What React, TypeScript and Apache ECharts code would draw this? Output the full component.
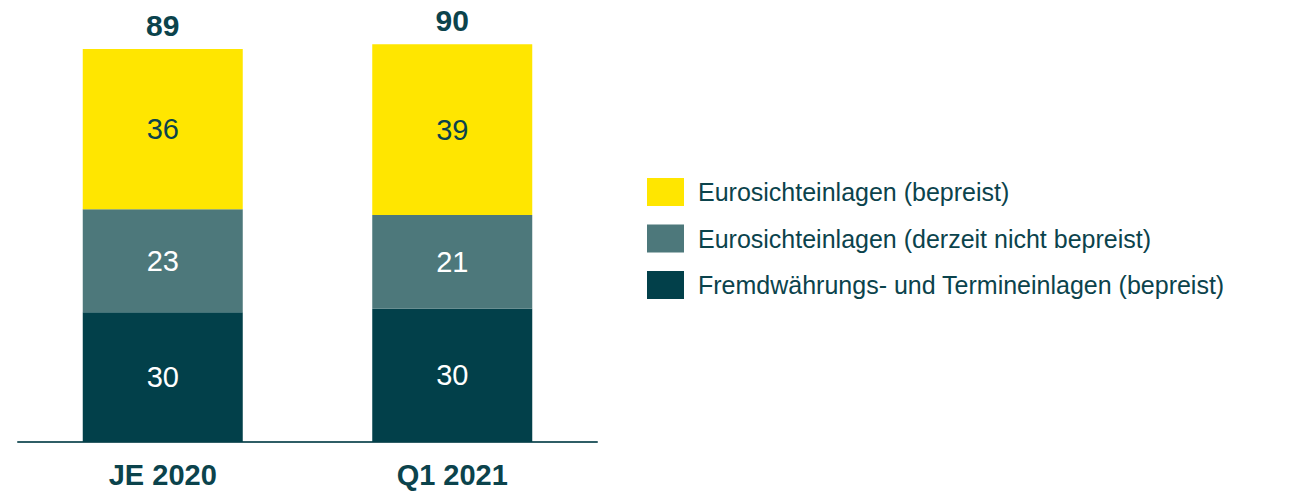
import React, { useEffect, useRef } from "react";
import * as echarts from "echarts";

const categories = ["JE 2020", "Q1 2021"];
const seriesNames = [
  "Fremdwährungs- und Termineinlagen (bepreist)",
  "Eurosichteinlagen (derzeit nicht bepreist)",
  "Eurosichteinlagen (bepreist)",
];
const fremdValues = [29.5, 30.3];
const nichtBepreistValues = [23.4, 21.3];
const bepreistValues = [36.4, 38.8];
const totals = [89, 90];

const FONT = "'Liberation Sans', Arial, sans-serif";
const TEXT = "#0B434C";
const C_DARK = "#02404A";
const C_MID = "#4D787B";
const C_YEL = "#FFE600";

export default function App() {
  const ref = useRef<HTMLDivElement>(null);
  useEffect(() => {
    if (!ref.current) return;
    document.body.style.margin = "0";
    const chart = echarts.init(ref.current, undefined, { renderer: "svg" });
    const segLabel = (color: string) => ({
      show: true,
      position: "inside" as const,
      color,
      fontSize: 29,
      fontFamily: FONT,
      formatter: (p: any) => String(Math.round(p.value)),
    });
    chart.setOption({
      animation: false,
      textStyle: { fontFamily: FONT },
      grid: { left: 18, right: 692, top: 2, bottom: 50, containLabel: false },
      legend: {
        orient: "vertical",
        left: 647,
        top: 178,
        padding: 0,
        itemWidth: 37,
        itemHeight: 28,
        itemGap: 18.5,
        icon: "rect",
        data: [seriesNames[2], seriesNames[1], seriesNames[0]],
        textStyle: { fontSize: 25, color: TEXT, fontFamily: FONT, padding: [0, 0, 0, 9] },
        selectedMode: false,
      },
      xAxis: {
        type: "category",
        data: categories,
        axisLine: { show: true, lineStyle: { color: "#2F5E66", width: 2 } },
        axisTick: { show: false },
        axisLabel: {
          color: TEXT,
          fontSize: 29,
          fontWeight: "bold",
          fontFamily: FONT,
          margin: 18,
        },
      },
      yAxis: {
        type: "value",
        min: 0,
        max: 100,
        show: false,
        splitLine: { show: false },
      },
      series: [
        {
          name: seriesNames[0],
          type: "bar",
          stack: "t",
          barWidth: 160,
          data: fremdValues,
          itemStyle: { color: C_DARK },
          label: segLabel("#FFFFFF"),
        },
        {
          name: seriesNames[1],
          type: "bar",
          stack: "t",
          data: nichtBepreistValues,
          itemStyle: { color: C_MID },
          label: segLabel("#FFFFFF"),
        },
        {
          name: seriesNames[2],
          type: "bar",
          stack: "t",
          data: bepreistValues,
          itemStyle: { color: C_YEL },
          label: segLabel(TEXT),
        },
        {
          name: "Summe",
          type: "bar",
          stack: "t",
          data: totals.map(() => 0),
          itemStyle: { color: "transparent" },
          label: {
            show: true,
            position: "top",
            distance: 9,
            color: TEXT,
            fontSize: 30,
            fontWeight: "bold",
            fontFamily: FONT,
            formatter: (p: any) => String(totals[p.dataIndex]),
          },
        },
      ],
    });
    return () => chart.dispose();
  }, []);
  return <div ref={ref} style={{ width: 1289, height: 492 }} />;
}
